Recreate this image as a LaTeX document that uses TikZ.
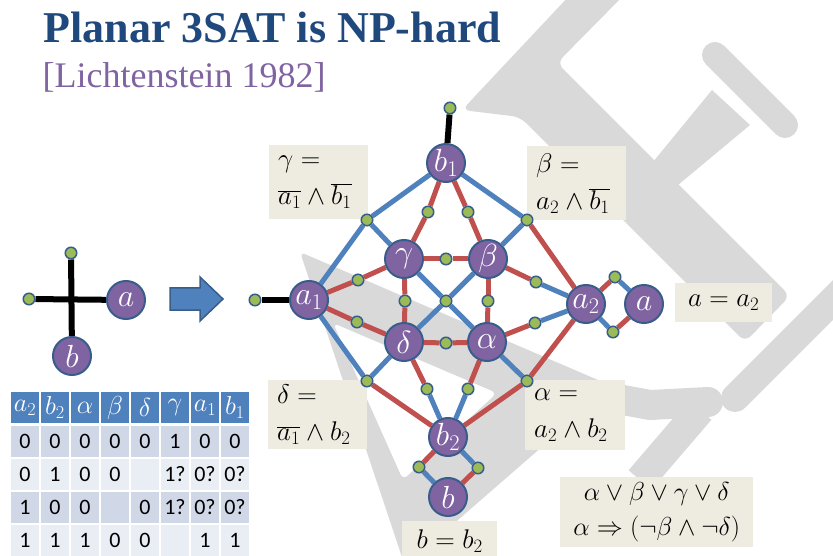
\RequirePackage{fix-cm}
\documentclass[tikz,border=0pt]{standalone}
\usepackage{fontspec}
\setmainfont{Liberation Serif}
\newfontfamily\tabfont{Carlito}
\usetikzlibrary{backgrounds}

\definecolor{varfill}{HTML}{8064A2}
\definecolor{rim}{HTML}{385D8A}
\definecolor{pinfill}{HTML}{9BBB59}
\definecolor{wireblue}{HTML}{4F81BD}
\definecolor{wirered}{HTML}{C0504D}
\definecolor{notefill}{HTML}{EEECE1}
\definecolor{titleblue}{HTML}{1F497D}
\definecolor{citepurple}{HTML}{8064A2}
\definecolor{wmgrey}{HTML}{D9D9D9}
\definecolor{rowA}{HTML}{D0D8E8}
\definecolor{rowB}{HTML}{E9EDF4}

\tikzset{
  var/.style={circle, fill=varfill, draw=rim, line width=2pt, minimum size=38pt, inner sep=0pt, text=white, font=\fontsize{32}{32}\selectfont},
  pin/.style={circle, fill=pinfill, draw=rim, line width=1.5pt, minimum size=11.5pt, inner sep=0pt},
  bw/.style={wireblue, line width=5pt},
  rw/.style={wirered, line width=5pt},
  kw/.style={black, line width=6pt},
  note/.style={fill=notefill, inner ysep=0pt, inner xsep=9pt, font=\fontsize{27}{37}\selectfont},
  cell/.style={minimum width=28pt, minimum height=31pt, inner sep=0pt, font=\tabfont\fontsize{22}{22}\selectfont},
}

\begin{document}
\begin{tikzpicture}[x=1pt, y=-1pt]
  \useasboundingbox (0,0) rectangle (833,556);

  % title
  \node[anchor=base west, font=\bfseries\fontsize{44}{44}\selectfont, text=titleblue] (title) at (40,43) {Planar 3SAT is NP-hard};
  \node[anchor=base west, font=\fontsize{36}{36}\selectfont, text=citepurple] (cite) at (39,88) {[Lichtenstein 1982]};

  % crossing
  \node[var] (xa) at (126,300) {$a$};
  \node[var] (xb) at (72,356) {$b$};
  \node[pin] (xt) at (71,253) {};
  \node[pin] (xl) at (29,299) {};
  \draw[fill=wireblue, draw=rim, line width=1.5pt] (170,288) -- (200,288) -- (200,277) -- (223,299) -- (200,321) -- (200,310) -- (170,310) -- cycle;

  % labels
  \node[note, anchor=north west, text width=81pt, minimum height=74pt, align=left] (ngam) at (269,145) {$\gamma =$\\$\overline{a_1}\wedge\overline{b_1}$};
  \node[note, anchor=north west, text width=81pt, minimum height=74pt, align=left] (nbet) at (527,146) {$\beta =$\\$a_2\wedge\overline{b_1}$};
  \node[note, anchor=north west, text width=81pt, minimum height=69pt, align=left] (ndel) at (268,380) {$\delta =$\\$\overline{a_1}\wedge b_2$};
  \node[note, anchor=north west, text width=82pt, minimum height=70pt, align=left] (nalp) at (525,380) {$\alpha =$\\$a_2\wedge b_2$};
  \node[note, anchor=north west, minimum width=97pt, minimum height=39pt] (na) at (675,283) {$a = a_2$};
  \node[note, anchor=north west, minimum width=95pt, minimum height=40pt] (nb) at (402,521) {$b = b_2$};
  \node[note, anchor=north west, minimum width=193pt, minimum height=70pt, align=center, font=\fontsize{26}{35}\selectfont] (nclause) at (560,477) {$\alpha\vee\beta\vee\gamma\vee\delta$\\$\alpha\Rightarrow(\neg\beta\wedge\neg\delta)$};

  % variables
  \node[var] (b1) at (446,163) {$b_1$};
  \node[var] (gam) at (404,259) {$\gamma$};
  \node[var] (bet) at (488,259) {$\beta$};
  \node[var] (a1) at (309,300) {$a_1$};
  \node[var] (del) at (404,342) {$\delta$};
  \node[var] (alp) at (487,342) {$\alpha$};
  \node[var] (a2) at (586,304) {$a_2$};
  \node[var] (av) at (644,304) {$a$};
  \node[var] (b2) at (448,437) {$b_2$};
  \node[var] (bv) at (448,497) {$b$};

  % pins
  \node[pin] (pb1t) at (450,108) {};
  \node[pin] (pa1l) at (255,300) {};
  \node[pin] (pNW) at (367,220) {};
  \node[pin] (pNE) at (527,220) {};
  \node[pin] (pSW) at (367,381) {};
  \node[pin] (pSE) at (527,381) {};
  \node[pin] (pbg) at (428,212) {};
  \node[pin] (pbb) at (468,212) {};
  \node[pin] (pgb) at (446,259) {};
  \node[pin] (pag) at (358,280) {};
  \node[pin] (pad) at (357,322) {};
  \node[pin] (pgd) at (405,301) {};
  \node[pin] (pmid) at (446,301) {};
  \node[pin] (pba) at (488,301) {};
  \node[pin] (pbe) at (536,282) {};
  \node[pin] (pal) at (535,323) {};
  \node[pin] (pdal) at (446,343) {};
  \node[pin] (pdb) at (427,389) {};
  \node[pin] (pab) at (468,389) {};
  \node[pin] (paa1) at (615,277) {};
  \node[pin] (paa2) at (613,332) {};
  \node[pin] (pbb1) at (419,467) {};
  \node[pin] (pbb2) at (478,468) {};

  % table
  \foreach \h [count=\c] in {a_2,b_2,\alpha,\beta,\delta,\gamma,a_1,b_1}
    \node[cell, fill=wireblue, text=white, font=\fontsize{26}{26}\selectfont] (th-\c) at (25+30*\c-30,407.5) {$\h$};
  \foreach \row [count=\r] in {{0,0,0,0,0,1,0,0},{0,1,0,0,{},1?,0?,0?},{1,0,0,{},0,1?,0?,0?},{1,1,1,0,0,{},1,1}}{
    \ifodd\r\def\rowfill{rowA}\else\def\rowfill{rowB}\fi
    \foreach \v [count=\c] in \row
      \node[cell, fill=\rowfill, minimum height=31pt] (td-\r-\c) at (25+30*\c-30,441+33*\r-33) {\v};
  }

  \begin{scope}[on background layer]
    % watermark
    \fill[wmgrey, even odd rule, rounded corners=6pt] (300,252) -- (612,386) -- (405,566) -- cycle (333,323) -- (497,393) -- (403,480) -- cycle;
    \fill[wmgrey, rounded corners=8pt] (462,110) -- (570,-5) -- (624,-5) -- (557,63) -- (790,296) -- (745,342) -- (520,117) -- cycle;
    \draw[wmgrey, line width=26pt, line cap=round] (715,55) -- (785,125);
    \fill[wmgrey] (648,168) -- (712,90) -- (750,125) -- (672,190) -- cycle;
    \draw[wmgrey, line width=28pt, line cap=round] (735,398) -- (850,283);
    \draw[wmgrey, line width=30pt, line cap=round, line join=round] (580,392) -- (650,405) -- (708,402);
    \draw[wmgrey, line width=30pt] (700,410) -- (640,480);

    % wires
    \draw[kw] (xl) -- (xa);
    \draw[kw] (xt) -- (xb);
    \draw[kw] (b1) -- (pb1t);
    \draw[kw] (a1) -- (pa1l);
    \foreach \u/\v in {b1/pNW, pNW/a1, pNW/gam, b1/pNE, pNE/bet, a1/pSW, pSW/del, pSE/alp,
                       gam/pmid, pmid/alp, bet/pmid, pmid/del, pbe/a2, pal/a2, pdb/b2, pab/b2,
                       paa1/av, a2/paa2, pbb1/bv, b2/pbb2}
      \draw[bw] (\u) -- (\v);
    \foreach \u/\v in {pNE/a2, pSW/b2, a2/pSE, pSE/b2, b1/pbg, pbg/gam, b1/pbb, pbb/bet,
                       gam/pgb, pgb/bet, a1/pag, pag/gam, a1/pad, pad/del, gam/pgd, pgd/del,
                       bet/pba, pba/alp, bet/pbe, alp/pal, del/pdal, pdal/alp, del/pdb, alp/pab,
                       a2/paa1, paa2/av, b2/pbb1, pbb2/bv}
      \draw[rw] (\u) -- (\v);
  \end{scope}
\end{tikzpicture}
\end{document}
